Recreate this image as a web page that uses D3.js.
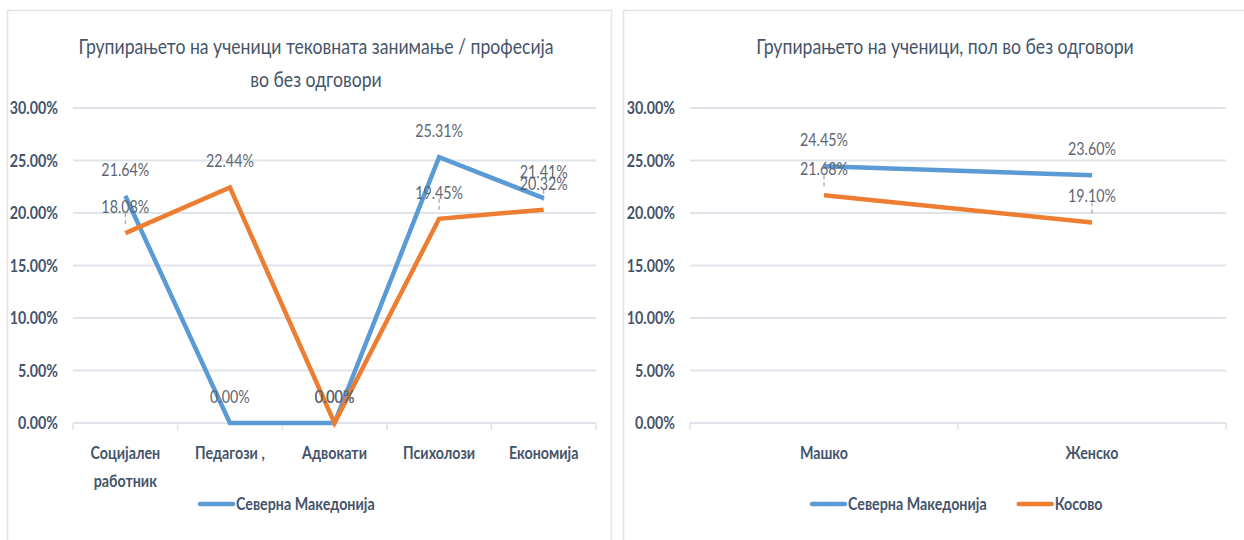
<!DOCTYPE html>
<html>
<head>
<meta charset="utf-8">
<script src="https://cdn.jsdelivr.net/npm/d3@7"></script>
<style>
body { margin: 0; background: #fff; }
svg { font-family: Lato, "Noto Sans", sans-serif; }
</style>
</head>
<body>
<svg width="1244" height="540"></svg>
<script>
// ================= DATA =================
var occupations = ["Социјален работник", "Педагози ,", "Адвокати", "Психолози", "Економија"];
var occMacedonia = [21.64, 0.00, 0.00, 25.31, 21.41];
var occKosovo = [18.08, 22.44, 0.00, 19.45, 20.32];

var genders = ["Машко", "Женско"];
var genMacedonia = [24.45, 23.60];
var genKosovo = [21.68, 19.10];

var yTicks = [0, 5, 10, 15, 20, 25, 30];
var seriesNames = ["Северна Македонија", "Косово"];
// ========================================

var blue = "#5b9bd5", orange = "#ed7d31";
var gridColor = "#dfe3ea", axisText = "#44546a", labelText = "#5f6672";
var SX = 0.84; // condensed look
var svg = d3.select("svg");

// squeezed text helper
function txt(parent, x, y, str, size, weight, anchor, color) {
  return parent.append("text")
    .attr("transform", "translate(" + x + "," + y + ") scale(" + SX + ",1)")
    .attr("text-anchor", anchor || "middle")
    .attr("fill", color || axisText)
    .style("font-size", size + "px")
    .style("font-weight", weight || "normal")
    .text(str);
}

// panel borders
svg.append("rect").attr("x", 7.5).attr("y", 10.5).attr("width", 604).attr("height", 540)
  .attr("fill", "none").attr("stroke", "#e1e4e8").attr("stroke-width", 1.5);
svg.append("rect").attr("x", 623.5).attr("y", 10.5).attr("width", 640).attr("height", 540)
  .attr("fill", "none").attr("stroke", "#e1e4e8").attr("stroke-width", 1.5);

function drawChart(opt) {
  var g = svg.append("g");
  var xs = d3.scaleBand().domain(opt.cats).range([opt.x0, opt.x1]);
  var ys = d3.scaleLinear().domain([0, 30]).range([423, 108]);

  // title
  opt.title.forEach(function(line, i) {
    txt(g, opt.titleX, 54 + i * 33, line, 21, "normal");
  });

  // grid
  g.selectAll(".grid").data(yTicks).enter().append("line")
    .attr("x1", opt.x0).attr("x2", opt.x1)
    .attr("y1", function(d) { return ys(d); }).attr("y2", function(d) { return ys(d); })
    .attr("stroke", gridColor).attr("stroke-width", 2);

  // y labels
  yTicks.forEach(function(d) {
    txt(g, opt.x0 - 15, ys(d) + 6, d.toFixed(2) + "%", 17, "bold", "end");
  });

  // x ticks
  var bounds = opt.cats.map(function(c) { return xs(c); }).concat([opt.x1]);
  g.selectAll(".xt").data(bounds).enter().append("line")
    .attr("x1", function(d) { return d; }).attr("x2", function(d) { return d; })
    .attr("y1", 423).attr("y2", 430).attr("stroke", gridColor).attr("stroke-width", 1.5);

  // x labels (wrapped)
  opt.cats.forEach(function(c) {
    var words = (opt.wrap && c.indexOf(" ,") < 0) ? c.split(" ") : [c];
    words.forEach(function(w, i) {
      txt(g, xs(c) + xs.bandwidth() / 2, 459 + i * 28, w, 17, "bold");
    });
  });

  var line = d3.line()
    .x(function(d, i) { return xs(opt.cats[i]) + xs.bandwidth() / 2; })
    .y(function(d) { return ys(d); });

  var series = [{ v: opt.mk, c: blue }, { v: opt.ks, c: orange }];

  // leader lines for second series labels
  opt.ks.forEach(function(v, i) {
    var px = xs(opt.cats[i]) + xs.bandwidth() / 2;
    var py = ys(v);
    if (v > 0 && v < opt.mk[i] + 8) {
      g.append("line").attr("x1", px).attr("x2", px)
        .attr("y1", py - 20).attr("y2", py - 6)
        .attr("stroke", "#8a909a").attr("stroke-width", 1).attr("stroke-dasharray", "4,3");
    }
  });

  series.forEach(function(s) {
    g.append("path").datum(s.v).attr("d", line)
      .attr("fill", "none").attr("stroke", s.c).attr("stroke-width", 4.5)
      .attr("stroke-linejoin", "miter");
  });

  series.forEach(function(s) {
    s.v.forEach(function(d, i) {
      txt(g, xs(opt.cats[i]) + xs.bandwidth() / 2, ys(d) - 20, d.toFixed(2) + "%", 17, "normal", "middle", labelText);
    });
  });

  // legend
  var lg = g.append("g").attr("transform", "translate(" + opt.legendX + ",504)");
  var lx = 0;
  opt.legend.forEach(function(k) {
    lg.append("line").attr("x1", lx).attr("x2", lx + 33).attr("y1", 0).attr("y2", 0)
      .attr("stroke", k === 0 ? blue : orange).attr("stroke-width", 4.5).attr("stroke-linecap", "round");
    var tt = txt(lg, lx + 36, 6, seriesNames[k], 17, "bold", "start");
    lx += 36 + tt.node().getComputedTextLength() * SX + 32;
  });
}

drawChart({
  cats: occupations, mk: occMacedonia, ks: occKosovo,
  x0: 73, x1: 596, wrap: true, titleX: 316,
  title: ["Групирањето на ученици тековната занимање / професија", "во без одговори"],
  legend: [0], legendX: 200
});

drawChart({
  cats: genders, mk: genMacedonia, ks: genKosovo,
  x0: 690, x1: 1226, wrap: false, titleX: 945,
  title: ["Групирањето на ученици, пол во без одговори"],
  legend: [0, 1], legendX: 812
});
</script>
</body>
</html>
